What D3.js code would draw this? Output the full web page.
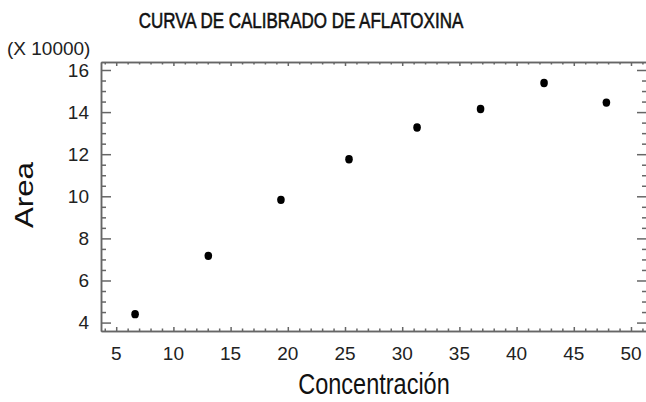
<!DOCTYPE html>
<html>
<head>
<meta charset="utf-8">
<script src="https://cdn.jsdelivr.net/npm/d3@7"></script>
<style>
  body { margin: 0; background: #fff; }
  text { font-family: "Liberation Sans", Arial, sans-serif; }
</style>
</head>
<body>
<div id="chart"></div>
<script>
// data
var concentracion = [6.65, 13.05, 19.4, 25.35, 31.3, 36.85, 42.4, 47.85];
var area = [4.4, 7.17, 9.83, 11.76, 13.27, 14.15, 15.38, 14.45];
var xTickLabels = [5, 10, 15, 20, 25, 30, 35, 40, 45, 50];
var yTickLabels = [4, 6, 8, 10, 12, 14, 16];

var svgWidth = 646;
var svgHeight = 402;

var plot = { left: 101, right: 647, top: 62, bottom: 331 };

var svg = d3.select("#chart").append("svg").attr("width", svgWidth).attr("height", svgHeight);

var x = d3.scaleLinear().domain([3.67, 51.4]).range([plot.left, plot.right]);
var y = d3.scaleLinear().domain([3.6, 16.38]).range([plot.bottom, plot.top]);

var xMinor = d3.range(4, 52, 1).filter(d => d % 5 != 0);
var yMinor = d3.range(4, 16.5, 0.5).filter(d => d % 2 != 0);

// tick marks pointing inward on all four sides, short minor + longer major
function frameAxis(axisFn, scale, pos, vals, len) {
	svg.append("g").attr("transform", pos)
		.call(axisFn(scale).tickValues(vals).tickSizeInner(-len).tickSizeOuter(0).tickFormat(""));
}

frameAxis(d3.axisBottom, x, `translate(0, ${plot.bottom})`, xMinor, 2.5);
frameAxis(d3.axisBottom, x, `translate(0, ${plot.bottom})`, xTickLabels, 4);
frameAxis(d3.axisTop, x, `translate(0, ${plot.top})`, xMinor, 2.5);
frameAxis(d3.axisTop, x, `translate(0, ${plot.top})`, xTickLabels, 4);
frameAxis(d3.axisLeft, y, `translate(${plot.left}, 0)`, yMinor, 5);
frameAxis(d3.axisLeft, y, `translate(${plot.left}, 0)`, yTickLabels, 10);
frameAxis(d3.axisRight, y, `translate(${plot.right}, 0)`, yMinor, 5);
frameAxis(d3.axisRight, y, `translate(${plot.right}, 0)`, yTickLabels, 10);

svg.selectAll(".domain, .tick line").attr("stroke", "#666").attr("stroke-width", 1.5);

// tick labels
svg.selectAll(".xlab").data(xTickLabels).enter().append("text").attr("class", "xlab")
	.attr("x", d => x(d)).attr("y", 360).attr("text-anchor", "middle")
	.style("font-size", "19px").attr("fill", "#222").text(d => d);

svg.selectAll(".ylab").data(yTickLabels).enter().append("text").attr("class", "ylab")
	.attr("x", 89).attr("y", d => y(d)).attr("dy", "0.36em").attr("text-anchor", "end")
	.style("font-size", "19px").attr("fill", "#222").text(d => d);

// points
svg.selectAll(".pt").data(concentracion).enter().append("ellipse").attr("class", "pt")
	.attr("cx", d => x(d)).attr("cy", (d, i) => y(area[i]))
	.attr("rx", 3.8).attr("ry", 4.2).attr("fill", "#000");

// titles, stretched vertically like the source image
svg.append("text").attr("transform", "translate(301, 28) scale(1, 1.28)")
	.attr("text-anchor", "middle").style("font-size", "17px")
	.attr("fill", "#111").attr("stroke", "#111").attr("stroke-width", 0.45)
	.text("CURVA DE CALIBRADO DE AFLATOXINA");

svg.append("text").attr("x", 7).attr("y", 55)
	.style("font-size", "19px").attr("fill", "#222").text("(X 10000)");

svg.append("text").attr("transform", "translate(33, 195) scale(1, 1.25) rotate(-90)")
	.attr("text-anchor", "middle").style("font-size", "25px").attr("fill", "#111").text("Area");

svg.append("text").attr("transform", "translate(374, 394) scale(1, 1.22)")
	.attr("text-anchor", "middle").style("font-size", "23.5px").attr("fill", "#111").text("Concentración");
</script>
</body>
</html>
